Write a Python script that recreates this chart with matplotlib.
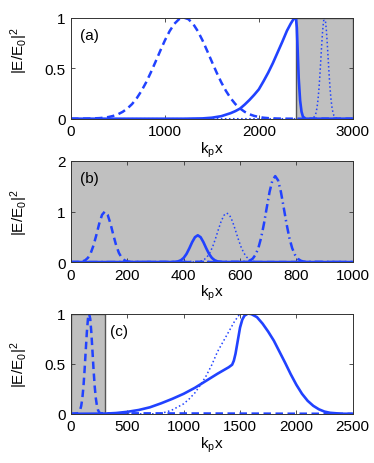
import matplotlib
matplotlib.use('Agg')
import matplotlib.pyplot as plt

plt.rcParams['font.family'] = ['Liberation Sans', 'DejaVu Sans']
plt.rcParams['mathtext.default'] = 'regular'

# ---------------- panel (a) ----------------
a_dash_x = [0, 100, 200, 300, 350, 400, 450, 500, 550, 600, 650, 700, 750, 800, 850, 900, 950,
            1000, 1050, 1100, 1150, 1200, 1250, 1300, 1350, 1400, 1450, 1500, 1550, 1600, 1650,
            1700, 1750, 1800, 1850, 1900, 1950, 2000, 2050, 2100, 2200, 2300, 2400, 3000]
a_dash_y = [0, 0.0004, 0.0017, 0.0057, 0.010, 0.017, 0.028, 0.044, 0.068, 0.101, 0.145, 0.203,
            0.275, 0.360, 0.458, 0.563, 0.671, 0.775, 0.866, 0.938, 0.984, 1.0, 0.984, 0.938,
            0.866, 0.775, 0.671, 0.563, 0.458, 0.360, 0.275, 0.203, 0.145, 0.101, 0.068, 0.044,
            0.028, 0.017, 0.010, 0.0057, 0.0017, 0.0004, 0, 0]

a_solid_x = [0, 1200, 1400, 1500, 1600, 1700, 1750, 1800, 1850, 1900, 1950, 2000, 2050, 2100,
             2150, 2200, 2250, 2300, 2340, 2370, 2395, 2405, 2415, 2425, 2440, 2455, 2470, 2500, 3000]
a_solid_y = [0, 0, 0.003, 0.01, 0.025, 0.055, 0.075, 0.10, 0.14, 0.185, 0.235, 0.29, 0.37, 0.455,
             0.55, 0.655, 0.76, 0.87, 0.94, 0.985, 1.0, 0.9, 0.65, 0.4, 0.18, 0.07, 0.02, 0, 0]

a_dot_x = [0, 2500, 2560, 2580, 2600, 2610, 2620, 2630, 2640, 2650, 2660, 2670, 2680, 2690, 2700,
           2710, 2720, 2730, 2740, 2750, 2760, 2770, 2780, 2790, 2800, 2820, 2840, 2900, 3000]
a_dot_y = [0, 0, 0.0011, 0.0068, 0.031, 0.060, 0.109, 0.183, 0.288, 0.421, 0.575, 0.732, 0.871,
           0.966, 1.0, 0.966, 0.871, 0.732, 0.575, 0.421, 0.288, 0.183, 0.109, 0.060, 0.031,
           0.0068, 0.0011, 0, 0]

# ---------------- panel (b) ----------------
b_dash_x = [0, 20, 30, 40, 50, 60, 70, 80, 90, 100, 110, 120, 130, 140, 150, 160, 170, 180, 190,
            200, 210, 220, 1000]
b_dash_y = [0, 0.001, 0.0039, 0.0124, 0.035, 0.085, 0.180, 0.334, 0.539, 0.760, 0.934, 1.0, 0.934,
            0.760, 0.539, 0.334, 0.180, 0.085, 0.035, 0.0124, 0.0039, 0.001, 0]

b_solid_x = [0, 360, 370, 380, 390, 400, 410, 420, 430, 440, 450, 460, 470, 480, 490, 500, 510,
             520, 530, 540, 1000]
b_solid_y = [0, 0.001, 0.005, 0.014, 0.037, 0.083, 0.162, 0.272, 0.394, 0.492, 0.53, 0.492, 0.394,
             0.272, 0.162, 0.083, 0.037, 0.014, 0.005, 0.001, 0]

b_dot_x = [0, 443, 453, 463, 473, 483, 493, 503, 513, 523, 533, 543, 553, 563, 573, 583, 593, 603,
           613, 623, 633, 643, 653, 663, 1000]
b_dot_y = [0, 0.004, 0.010, 0.023, 0.051, 0.102, 0.185, 0.307, 0.466, 0.642, 0.807, 0.926, 0.97,
           0.926, 0.807, 0.642, 0.466, 0.307, 0.185, 0.102, 0.051, 0.023, 0.010, 0.004, 0]

b_dd_x = [0, 615, 625, 635, 645, 655, 665, 675, 685, 695, 705, 715, 725, 735, 745, 755, 765, 775,
          785, 795, 805, 815, 825, 835, 1000]
b_dd_y = [0, 0.004, 0.011, 0.029, 0.068, 0.145, 0.277, 0.483, 0.760, 1.081, 1.391, 1.617, 1.7,
          1.617, 1.391, 1.081, 0.760, 0.483, 0.277, 0.145, 0.068, 0.029, 0.011, 0.004, 0]

# ---------------- panel (c) ----------------
c_dash_x = [0, 60, 70, 80, 90, 100, 110, 120, 130, 140, 150, 160, 170, 180, 190, 200, 210, 220,
            230, 240, 250, 260, 2500]
c_dash_y = [0, 0.0055, 0.015, 0.036, 0.078, 0.154, 0.272, 0.435, 0.626, 0.812, 0.949, 1.0, 0.949,
            0.812, 0.626, 0.435, 0.272, 0.154, 0.078, 0.036, 0.015, 0.0055, 0]

c_solid_x = [0, 300, 400, 500, 600, 700, 800, 900, 1000, 1100, 1200, 1300, 1400, 1430, 1445, 1460,
             1480, 1500, 1520, 1540, 1570, 1600, 1650, 1700, 1750, 1800, 1850, 1900, 1950, 2000,
             2050, 2100, 2150, 2200, 2250, 2300, 2400, 2500]
c_solid_y = [0, 0.002, 0.008, 0.02, 0.038, 0.065, 0.105, 0.15, 0.20, 0.26, 0.33, 0.40, 0.465, 0.49,
             0.53, 0.6, 0.73, 0.86, 0.94, 0.98, 1.0, 0.995, 0.965, 0.9, 0.82, 0.73, 0.62, 0.51,
             0.395, 0.29, 0.2, 0.13, 0.08, 0.045, 0.022, 0.01, 0.001, 0]

c_dot_x = [0, 750, 800, 850, 900, 950, 1000, 1050, 1100, 1150, 1200, 1250, 1300, 1350, 1400, 1450,
           1500, 1550, 1600]
c_dot_y = [0, 0, 0.005, 0.02, 0.04, 0.07, 0.10, 0.15, 0.21, 0.29, 0.38, 0.49, 0.62, 0.72, 0.82,
           0.92, 1.0, 1.1, 1.2]

blue = '#2142ff'
gray = '#c0c0c0'
ylab = '|E/E$_0$|$^2$'
xlab = 'k$_p$x'

fig = plt.figure(figsize=(3.74, 4.64), dpi=100)
ax1 = fig.add_axes([0.190, 0.742, 0.753, 0.218])
ax2 = fig.add_axes([0.190, 0.433, 0.753, 0.218])
ax3 = fig.add_axes([0.190, 0.106, 0.753, 0.216])

dash = (0, (3, 1.8))

ax1.axvspan(2400, 3000, facecolor=gray, edgecolor='#555555', lw=1, zorder=0)
ax1.plot(a_dot_x, a_dot_y, ':', color=blue, lw=1.1)
ax1.plot(a_dash_x, a_dash_y, linestyle=dash, color=blue, lw=1.8)
ax1.plot(a_solid_x, a_solid_y, '-', color=blue, lw=1.9)
ax1.set_xlim(0, 3000)
ax1.set_ylim(0, 1)
ax1.set_xticks([0, 1000, 2000, 3000])
ax1.set_yticks([0, 0.5, 1])
ax1.set_yticklabels(['0', '0.5', '1'])
ax1.text(0.03, 0.9, '(a)', transform=ax1.transAxes, fontsize=11, va='top')

ax2.set_facecolor(gray)
ax2.plot(b_dot_x, b_dot_y, ':', color=blue, lw=1.1)
ax2.plot(b_dash_x, b_dash_y, linestyle=dash, color=blue, lw=1.8)
ax2.plot(b_dd_x, b_dd_y, linestyle=(0, (3.5, 1.5, 0.6, 1.5)), color=blue, lw=1.8)
ax2.plot(b_solid_x, b_solid_y, '-', color=blue, lw=1.9)
ax2.set_xlim(0, 1000)
ax2.set_ylim(0, 2)
ax2.set_xticks([0, 200, 400, 600, 800, 1000])
ax2.set_yticks([0, 1, 2])
ax2.text(0.03, 0.9, '(b)', transform=ax2.transAxes, fontsize=11, va='top')

ax3.axvspan(0, 300, facecolor=gray, edgecolor='#555555', lw=1, zorder=0)
ax3.plot(c_dot_x, c_dot_y, ':', color=blue, lw=1.1)
ax3.plot(c_dash_x, c_dash_y, linestyle=dash, color=blue, lw=1.8)
ax3.plot(c_solid_x, c_solid_y, '-', color=blue, lw=1.9)
ax3.set_xlim(0, 2500)
ax3.set_ylim(0, 1)
ax3.set_xticks([0, 500, 1000, 1500, 2000, 2500])
ax3.set_yticks([0, 0.5, 1])
ax3.set_yticklabels(['0', '0.5', '1'])
ax3.text(0.14, 0.9, '(c)', transform=ax3.transAxes, fontsize=11, va='top')

for ax in (ax1, ax2, ax3):
    ax.tick_params(direction='in', top=True, right=True, length=3, width=0.6,
                   labelsize=11, pad=4, color='#333333')
    for s in ax.spines.values():
        s.set_linewidth(0.7)
        s.set_color('#333333')
    ax.set_xlabel(xlab, fontsize=11, labelpad=1)
    ax.set_ylabel(ylab, fontsize=11)
    ax.yaxis.set_label_coords(-0.145, 0.5)

ax1.yaxis.set_label_coords(-0.145, 0.68)

fig.savefig('out.png', dpi=100)
